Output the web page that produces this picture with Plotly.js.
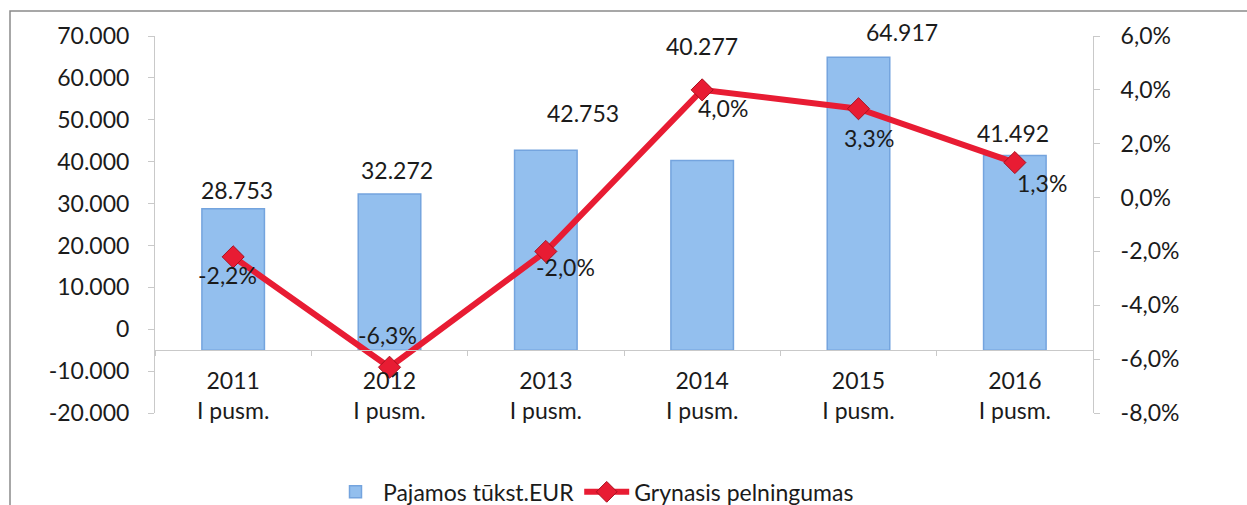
<!DOCTYPE html>
<html>
<head>
<meta charset="utf-8">
<script src="https://cdn.plot.ly/plotly-3.0.1.min.js"></script>
<style>
  html, body { margin: 0; padding: 0; background: #fff; }
  #chart { width: 1247px; height: 505px; }
</style>
</head>
<body>
<div id="chart"></div>
<script>
// data
var categories = ["2011<br>I pusm.", "2012<br>I pusm.", "2013<br>I pusm.", "2014<br>I pusm.", "2015<br>I pusm.", "2016<br>I pusm."];
var revenue = [28753, 32272, 42753, 40277, 64917, 41492];
var revenueLabels = ["28.753", "32.272", "42.753", "40.277", "64.917", "41.492"];
var margin = [-2.2, -6.3, -2.0, 4.0, 3.3, 1.3];
var marginLabels = ["-2,2%", "-6,3%", "-2,0%", "4,0%", "3,3%", "1,3%"];
var leftTickVals = [-20000, -10000, 0, 10000, 20000, 30000, 40000, 50000, 60000, 70000];
var leftTickText = ["-20.000", "-10.000", "0", "10.000", "20.000", "30.000", "40.000", "50.000", "60.000", "70.000"];
var rightTickVals = [-8, -6, -4, -2, 0, 2, 4, 6];
var rightTickText = ["-8,0%", "-6,0%", "-4,0%", "-2,0%", "0,0%", "2,0%", "4,0%", "6,0%"];

// the category axis crosses the value axis at -5.000, bars hang from there
var barBase = -5000;
var yMin = -20000, yMax = 70000;

// label offsets (px), hand placed like in the original
var revShiftX = [4, 7, 37, 0, 43, -2];
var revShiftY = [19, 24, 37, 115, 25, 22];
var marShiftX = [-6, -2, 20, 21, 10, 27];
var marShiftY = [-18, 32, -16, -18, -29, -20];

var font = "Lato, 'Open Sans', sans-serif";
var textCol = "#1b1b1b";
var axisCol = "#c9c9c9";
var fs = 23;

var bars = {
  type: "bar",
  name: "Pajamos tūkst.EUR",
  x: categories,
  y: revenue.map(function (v) { return v - barBase; }),
  base: barBase,
  marker: { color: "#93bfee", line: { color: "#74a4de", width: 1.5 } },
  hoverinfo: "skip"
};

var line = {
  type: "scatter",
  mode: "lines+markers",
  name: "Grynasis pelningumas",
  x: categories,
  y: margin,
  yaxis: "y2",
  line: { color: "#e81c33", width: 6 },
  marker: { symbol: "diamond", size: 17, color: "#e81c33", line: { color: "#a8101e", width: 1 } },
  hoverinfo: "skip"
};

var annotations = [];
categories.forEach(function (c, i) {
  annotations.push({
    x: c, y: revenue[i], xref: "x", yref: "y",
    text: revenueLabels[i], showarrow: false,
    xshift: revShiftX[i], yshift: revShiftY[i],
    font: { family: font, size: fs, color: textCol }
  });
  annotations.push({
    x: c, y: margin[i], xref: "x", yref: "y2",
    text: marginLabels[i], showarrow: false,
    xshift: marShiftX[i], yshift: marShiftY[i],
    font: { family: font, size: fs, color: textCol }
  });
});

var layout = {
  width: 1247,
  height: 505,
  margin: { l: 155, r: 154, t: 36, b: 92 },
  paper_bgcolor: "#fff",
  plot_bgcolor: "#fff",
  font: { family: font, size: fs, color: textCol },
  showlegend: true,
  bargap: 0.6,
  legend: {
    orientation: "h",
    x: (328 - 155) / 938, xanchor: "left",
    yref: "container",
    y: 0.026, yanchor: "middle",
    font: { family: font, size: fs, color: textCol },
    itemwidth: 45
  },
  xaxis: {
    type: "category",
    anchor: "free",
    position: (barBase - yMin) / (yMax - yMin),
    showline: true, linecolor: axisCol, linewidth: 1,
    ticks: "outside", tickson: "boundaries", ticklen: 5, tickcolor: axisCol,
    ticklabelstandoff: 10,
    showgrid: false, zeroline: false,
    tickfont: { family: font, size: fs, color: textCol }
  },
  yaxis: {
    range: [yMin, yMax],
    tickvals: leftTickVals, ticktext: leftTickText,
    showline: true, linecolor: axisCol, linewidth: 1,
    ticks: "outside", ticklen: 6, tickcolor: axisCol,
    ticklabelstandoff: 14,
    showgrid: false, zeroline: false,
    tickfont: { family: font, size: fs, color: textCol }
  },
  yaxis2: {
    overlaying: "y",
    side: "right",
    range: [-8, 6],
    tickvals: rightTickVals, ticktext: rightTickText,
    showline: true, linecolor: axisCol, linewidth: 1,
    ticks: "outside", ticklen: 6, tickcolor: axisCol,
    ticklabelstandoff: 16,
    showgrid: false, zeroline: false,
    tickfont: { family: font, size: fs, color: textCol }
  },
  annotations: annotations,
  shapes: [{
    type: "rect", xref: "paper", yref: "paper",
    x0: (10 - 155) / 938, x1: (1300 - 155) / 938,
    y0: (413 - 560) / 377, y1: (413 - 11) / 377,
    line: { color: "#8a8a8a", width: 1.5 },
    fillcolor: "rgba(0,0,0,0)",
    layer: "below"
  }]
};

Plotly.newPlot("chart", [bars, line], layout, { staticPlot: true });
</script>
</body>
</html>
